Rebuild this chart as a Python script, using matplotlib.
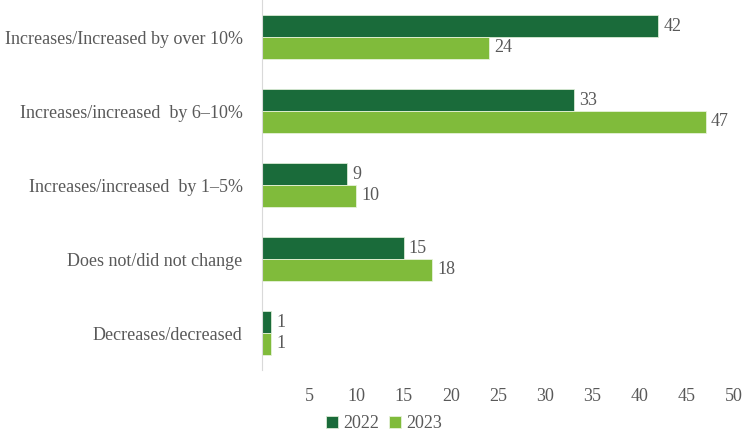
import matplotlib
matplotlib.use("Agg")
import matplotlib.pyplot as plt
import numpy as np

categories = [
    "Increases/Increased by over 10%",
    "Increases/increased  by 6\u201310%",
    "Increases/increased  by 1\u20135%",
    "Does not/did not change",
    "Decreases/decreased",
]
values_2022 = [42, 33, 9, 15, 1]
values_2023 = [24, 47, 10, 18, 1]
series_labels = ["2022", "2023"]
x_ticks = [5, 10, 15, 20, 25, 30, 35, 40, 45, 50]

dark_green = "#1a6b3a"
light_green = "#80bb3b"
text_color = "#595959"

plt.rcParams["font.family"] = ["Liberation Serif", "DejaVu Serif"]

fig = plt.figure(figsize=(7.44, 4.32), dpi=100)
ax = fig.add_axes([262 / 744, 62 / 432, 472 / 744, 370 / 432])

y = np.arange(len(categories))
h = 0.296
b1 = ax.barh(y - h / 2, values_2022, height=h, color=dark_green,
             edgecolor="#d9ead3", linewidth=0.6, label=series_labels[0])
b2 = ax.barh(y + h / 2, values_2023, height=h, color=light_green,
             edgecolor="#e6f2d9", linewidth=0.6, label=series_labels[1])

for bars, vals in ((b1, values_2022), (b2, values_2023)):
    for bar, v in zip(bars, vals):
        ax.text(v + 0.55, bar.get_y() + bar.get_height() / 2, str(v),
                va="center", ha="left", fontsize=13, color=text_color)

ax.set_xlim(0, 50)
ax.set_ylim(len(categories) - 0.5, -0.5)
ax.set_yticks(y)
ax.set_yticklabels(categories, fontsize=13, color=text_color)
ax.set_xticks(x_ticks)
ax.set_xticklabels([str(t) for t in x_ticks], fontsize=13, color=text_color)
ax.tick_params(axis="both", length=0)
ax.tick_params(axis="x", pad=13)
ax.tick_params(axis="y", pad=14)

for side in ("top", "right", "bottom"):
    ax.spines[side].set_visible(False)
ax.spines["left"].set_color("#d9d9d9")
ax.spines["left"].set_linewidth(0.8)

leg = fig.legend(handles=[b1, b2], labels=series_labels, loc="center",
                 bbox_to_anchor=(384 / 744, 1 - 424 / 432), ncol=2,
                 frameon=False, fontsize=13, handlelength=0.65,
                 handleheight=0.65, handletextpad=0.3, columnspacing=0.55)
for t in leg.get_texts():
    t.set_color(text_color)

fig.savefig("out.png", dpi=100)
